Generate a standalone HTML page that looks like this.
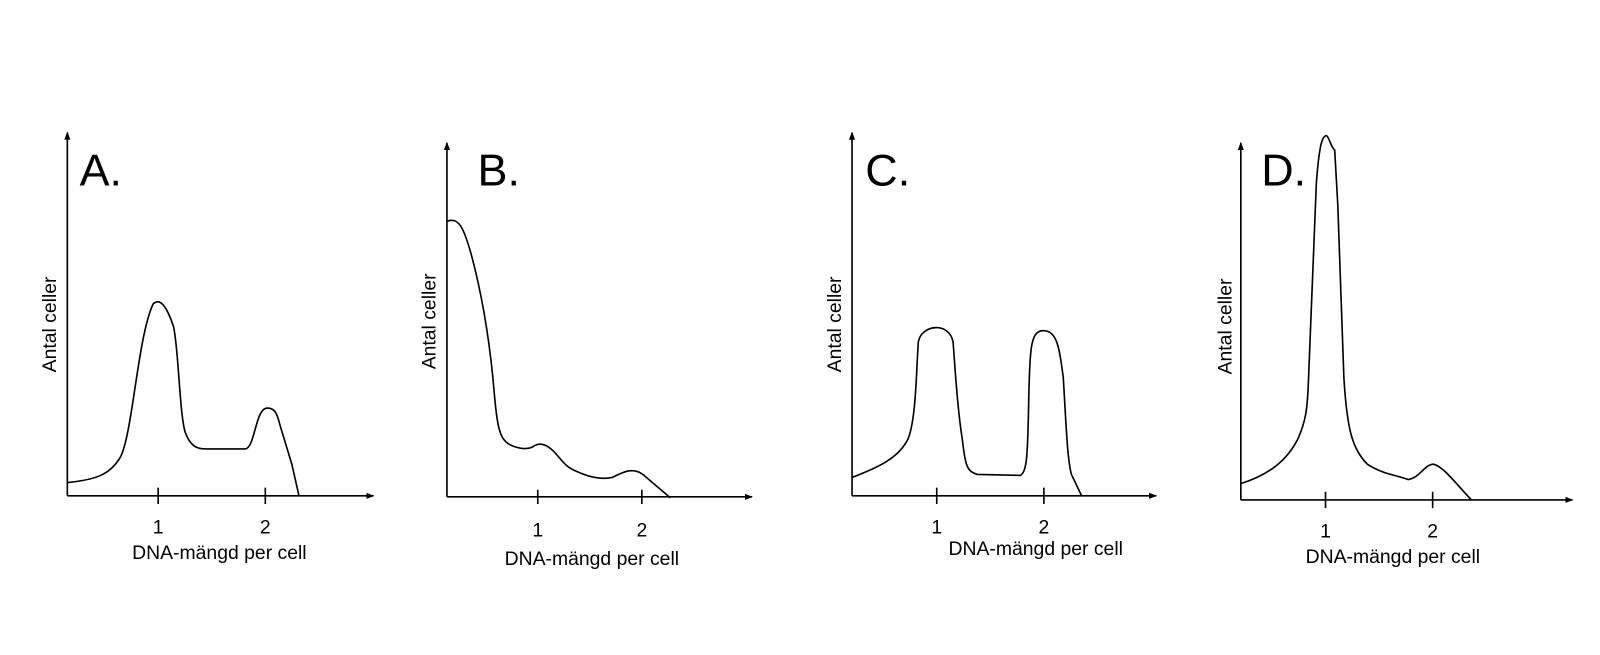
<!DOCTYPE html>
<html><head><meta charset="utf-8"><style>
html,body{margin:0;padding:0;background:#fff;}
svg{display:block;}
text{font-family:"Liberation Sans",sans-serif;fill:#000;}
</style></head><body>
<svg width="1600" height="655" viewBox="0 0 1568 642" preserveAspectRatio="none" xmlns="http://www.w3.org/2000/svg">
<defs><marker id="ar" markerWidth="8" markerHeight="8" refX="7" refY="4" orient="auto" markerUnits="userSpaceOnUse"><path d="M0,1 L8,4 L0,7 Z" fill="#000"/></marker></defs>
<g stroke="#000" stroke-width="1.6" fill="none" stroke-linejoin="round">
<!-- A -->
<path d="M66,486 V130" marker-end="url(#ar)"/><path d="M66,486 H366" marker-end="url(#ar)"/>
<path d="M155,478 v16 M260,478 v16"/>
<path d="M66,473 C95,470 108,465 118,448 C130,425 135,330 150,298 C158,290 165,305 170,320 C175,340 176,410 182,425 C188,440 195,440 205,440 L240,440 C250,440 250,400 262,400 C272,400 272,410 276,422 L286,455 L293,486"/>
<!-- B -->
<path d="M438,487 V140" marker-end="url(#ar)"/><path d="M438,487 H737" marker-end="url(#ar)"/>
<path d="M527,480 v14 M629,480 v14"/>
<path d="M438,217 C450,212 455,225 462,250 C470,280 478,320 483,370 C487,415 488,430 500,436 C510,441 518,440 522,438 C530,432 538,437 545,445 C552,453 555,458 565,462 C578,468 590,470 600,468 C612,462 620,458 630,465 L657,488"/>
<!-- C -->
<path d="M835,486 V130" marker-end="url(#ar)"/><path d="M835,486 H1133" marker-end="url(#ar)"/>
<path d="M918,478 v16 M1023,478 v16"/>
<path d="M835,468 C860,458 880,450 890,430 C898,410 898,360 900,335 C903,318 930,315 934,335 C936,360 938,400 943,430 C946,458 948,462 958,465 L1000,466 C1006,462 1007,450 1008,400 C1009,340 1010,325 1022,324 C1036,324 1038,340 1042,370 C1045,420 1046,450 1050,465 L1060,486"/>
<!-- D -->
<path d="M1216,490 V140" marker-end="url(#ar)"/><path d="M1216,490 H1541" marker-end="url(#ar)"/>
<path d="M1299,482 v16 M1404,482 v16"/>
<path d="M1216,474 C1245,465 1262,450 1272,430 C1280,412 1281,400 1282,380 L1290,180 C1293,140 1296,133 1300,133 C1303,135 1304,144 1308,147 L1311,200 L1317,370 C1320,420 1325,440 1340,455 C1355,465 1370,466 1380,470 C1392,468 1396,455 1405,455 C1415,458 1425,472 1442,490"/>
</g>
<g font-size="44">
<text x="78" y="182">A.</text><text x="468" y="182">B.</text><text x="848" y="182">C.</text><text x="1236" y="182">D.</text>
</g>
<g font-size="19">
<text transform="translate(55,318) rotate(-90)" text-anchor="middle">Antal celler</text>
<text transform="translate(427,315) rotate(-90)" text-anchor="middle">Antal celler</text>
<text transform="translate(824,318) rotate(-90)" text-anchor="middle">Antal celler</text>
<text transform="translate(1207,320) rotate(-90)" text-anchor="middle">Antal celler</text>
<text x="155" y="523" text-anchor="middle">1</text><text x="260" y="523" text-anchor="middle">2</text>
<text x="215" y="548" text-anchor="middle">DNA-mängd per cell</text>
<text x="527" y="526" text-anchor="middle">1</text><text x="629" y="526" text-anchor="middle">2</text>
<text x="580" y="554" text-anchor="middle">DNA-mängd per cell</text>
<text x="918" y="523" text-anchor="middle">1</text><text x="1023" y="523" text-anchor="middle">2</text>
<text x="1015" y="544" text-anchor="middle">DNA-mängd per cell</text>
<text x="1299" y="527" text-anchor="middle">1</text><text x="1404" y="527" text-anchor="middle">2</text>
<text x="1365" y="552" text-anchor="middle">DNA-mängd per cell</text>
</g>
</svg>
</body></html>
